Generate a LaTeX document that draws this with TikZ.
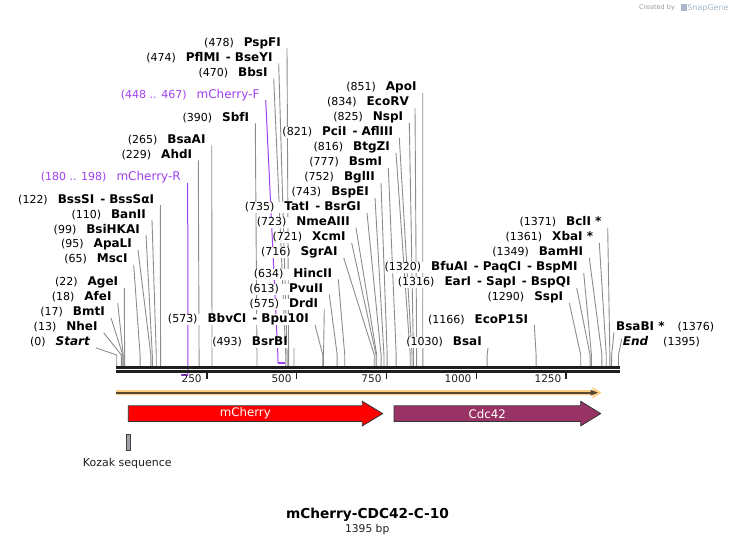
\documentclass[tikz,border=0pt]{standalone}
\usepackage{fontspec}
\setmainfont{DejaVu Sans}
\usetikzlibrary{calc}
\pgfdeclarelayer{bg}
\pgfsetlayers{bg,main}
\definecolor{sitegray}{HTML}{8C8C8C}
\definecolor{primer}{HTML}{A040F0}
\definecolor{axisc}{HTML}{1E1E1E}
\definecolor{bandorange}{HTML}{FFCC85}
\definecolor{banddark}{HTML}{574836}
\definecolor{cdc}{HTML}{993366}
\definecolor{kozak}{HTML}{9EA2AA}
\definecolor{sgblue}{HTML}{A8B8C8}
\newcommand{\rs}[2]{(#1)\hspace{10pt}{\fontsize{12}{14}\selectfont\bfseries #2}}
\newcommand{\sepd}{\hspace{6pt}-\hspace{4pt}}
\tikzset{
  lbl/.style={inner sep=0pt, fill=white, text height=8.5pt, text depth=2.5pt,
              font=\fontsize{11}{13}\selectfont, yshift=-1.2pt},
  siteline/.style={sitegray, line width=0.9pt},
  primerline/.style={primer, line width=1pt},
  primerbar/.style={primer, line width=2pt},
  ticklbl/.style={inner sep=0pt, font=\fontsize{10.5}{12}\selectfont, text=axisc},
  feat/.style={draw=black!80, line width=0.8pt},
  feattext/.style={text=white, font=\fontsize{11.8}{14}\selectfont, inner sep=0pt}
}
\newcommand{\siteE}[5]{%
  \node[lbl,anchor=east] (L#1) at (#2,#3) {#5};
  \coordinate (S#1) at ({116.7+0.3597*#4},355);
  \coordinate (A#1) at ({116.7+0.3597*#4},365.8);
  \begin{pgfonlayer}{bg}
  \draw[siteline] ([shift={(6,5)}]L#1.east) -- (S#1) -- (A#1);
  \end{pgfonlayer}
}
\newcommand{\siteW}[7]{%
  \node[lbl,anchor=west] (L#1) at (#2,#3) {#5};
  \coordinate (S#1) at ({116.7+0.3597*#4},355);
  \coordinate (A#1) at ({116.7+0.3597*#4},365.8);
  \begin{pgfonlayer}{bg}
  \draw[siteline] ([shift={(#6,#7)}]L#1.west) -- (S#1) -- (A#1);
  \end{pgfonlayer}
}
\begin{document}
\begin{tikzpicture}[x=1pt,y=-1pt]
\useasboundingbox (0,0) rectangle (736,545);

% left group
\siteE{pspfi}{281}{42.3}{478}{\rs{478}{PspFI}}
\siteE{pflmi}{272.7}{57.3}{474}{\rs{474}{PflMI\sepd BseYI}}
\siteE{bbsi}{267.7}{72.3}{470}{\rs{470}{BbsI}}
\siteE{sbfi}{249.3}{117.3}{390}{\rs{390}{SbfI}}
\siteE{bsaai}{205.7}{139.3}{265}{\rs{265}{BsaAI}}
\siteE{ahdi}{192.3}{154.3}{229}{\rs{229}{AhdI}}
\siteE{bsssi}{154.3}{199}{122}{\rs{122}{BssSI\sepd BssSαI}}
\siteE{banii}{146}{214}{110}{\rs{110}{BanII}}
\siteE{bsihkai}{140}{229}{99}{\rs{99}{BsiHKAI}}
\siteE{apali}{132}{243.7}{95}{\rs{95}{ApaLI}}
\siteE{msci}{127.7}{258.7}{65}{\rs{65}{MscI}}
\siteE{agei}{118.3}{281.7}{22}{\rs{22}{AgeI}}
\siteE{afei}{111.7}{296.7}{18}{\rs{18}{AfeI}}
\siteE{bmti}{105}{311.7}{17}{\rs{17}{BmtI}}
\siteE{nhei}{97.7}{326.7}{13}{\rs{13}{NheI}}
\siteE{start}{90}{341.7}{0}{\rs{0}{\itshape Start}}
\siteE{bbvci}{309}{318.7}{573}{\rs{573}{BbvCI\sepd Bpu10I}}
\siteE{bsrbi}{288}{341.7}{493}{\rs{493}{BsrBI}}

% middle group
\siteE{apoi}{416.7}{86.7}{851}{\rs{851}{ApoI}}
\siteE{ecorv}{409}{101.7}{834}{\rs{834}{EcoRV}}
\siteE{nspi}{403.3}{116.7}{825}{\rs{825}{NspI}}
\siteE{pcii}{393.3}{131.7}{821}{\rs{821}{PciI\sepd AflIII}}
\siteE{btgzi}{390}{146.7}{816}{\rs{816}{BtgZI}}
\siteE{bsmi}{382.3}{161.7}{777}{\rs{777}{BsmI}}
\siteE{bglii}{375}{176.7}{752}{\rs{752}{BglII}}
\siteE{bspei}{369}{191.7}{743}{\rs{743}{BspEI}}
\siteE{tati}{361}{206.7}{735}{\rs{735}{TatI\sepd BsrGI}}
\siteE{nmeaiii}{350}{221.7}{723}{\rs{723}{NmeAIII}}
\siteE{xcmi}{345.7}{236.7}{721}{\rs{721}{XcmI}}
\siteE{sgrai}{337.7}{251.7}{716}{\rs{716}{SgrAI}}
\siteE{hincii}{332.3}{273.3}{634}{\rs{634}{HincII}}
\siteE{pvuii}{323.3}{288.3}{613}{\rs{613}{PvuII}}
\siteE{drdi}{318.3}{303.3}{575}{\rs{575}{DrdI}}

% right group
\siteE{bcli}{601.7}{221.7}{1371}{\rs{1371}{BclI *}}
\siteE{xbai}{593.3}{236.7}{1361}{\rs{1361}{XbaI *}}
\siteE{bamhi}{583.3}{251.7}{1349}{\rs{1349}{BamHI}}
\siteE{bfuai}{577.7}{266.7}{1320}{\rs{1320}{BfuAI\sepd PaqCI\sepd BspMI}}
\siteE{eari}{570.7}{281.7}{1316}{\rs{1316}{EarI\sepd SapI\sepd BspQI}}
\siteE{sspi}{563.3}{296.7}{1290}{\rs{1290}{SspI}}
\siteE{ecop}{528.3}{319}{1166}{\rs{1166}{EcoP15I}}
\siteE{bsai}{482}{341.7}{1030}{\rs{1030}{BsaI}}
\siteW{bsabi}{616}{326.7}{1376}{{\fontsize{12}{14}\selectfont\bfseries BsaBI *}\hspace{13pt}(1376)}{-2}{4.5}
\siteW{endl}{622.7}{341.7}{1395}{{\fontsize{12}{14}\selectfont\bfseries\itshape End}\hspace{15pt}(1395)}{-1}{-4}

% primers
\node[lbl,anchor=east,text=primer] (Pf) at (259.7,94) {(448 .. 467)\hspace{10pt}{\fontsize{12}{14}\selectfont mCherry-F}};
\coordinate (pf1) at ({116.7+0.3597*448},355);
\coordinate (pf2) at ({116.7+0.3597*448},363);
\coordinate (pf3) at ({116.7+0.3597*467},363);
\node[lbl,anchor=east,text=primer] (Pr) at (181,176.7) {(180 .. 198)\hspace{10pt}{\fontsize{12}{14}\selectfont mCherry-R}};
\coordinate (pr1) at ({116.7+0.3597*198},375.3);
\coordinate (pr2) at ({116.7+0.3597*180},375.3);
\begin{pgfonlayer}{bg}
\draw[primerline] ([shift={(6,5)}]Pf.east) -- (pf1) -- (pf2);
\draw[primerbar] (pf2) -- (pf3);
\draw[primerline] ([shift={(6.7,5)}]Pr.east) -- (pr1);
\draw[primerbar] (pr1) -- (pr2);
\end{pgfonlayer}

% axis
\coordinate (ax0) at (116,367.3);
\coordinate (ax1) at (619.5,367.3);
\coordinate (bx0) at (116,371.5);
\coordinate (bx1) at (619.5,371.5);
\draw[axisc, line width=2.7pt] (ax0) -- (ax1);
\draw[axisc, line width=2.4pt] (bx0) -- (bx1);
\foreach \t in {250,500,750,1000,1250} {
  \coordinate (tk\t) at ({116.7+0.3597*\t},371);
  \coordinate (tb\t) at ({116.7+0.3597*\t},378.7);
  \draw[axisc, line width=1.8pt] (tk\t) -- (tb\t);
  \node[ticklbl, anchor=east] (tl\t) at ({116.7+0.3597*\t-4.8},379) {\t};
}

% full-length orange arrow
\coordinate (ob0) at (116,392.7);
\coordinate (ob1) at (592,392.7);
\fill[bandorange] (116,390.2) -- (593,390.2) -- (592,386.8) -- (601.5,392.7) -- (592,398.6) -- (593,395.2) -- (116,395.2) -- cycle;
\draw[banddark, line width=1.6pt] (ob0) -- (ob1);
\fill[banddark] (590.5,389.8) -- (598,392.7) -- (590.5,395.6) -- cycle;

% mCherry feature
\filldraw[feat, fill=red] (128.3,405.8) -- (362.3,405.8) -- (362.3,401.3) -- (382.7,413.6) -- (362.3,425.9) -- (362.3,421.5) -- (128.3,421.5) -- cycle;
\node[feattext] (fm) at (245.3,413.6) {mCherry};
% Cdc42 feature
\filldraw[feat, fill=cdc] (394,405.8) -- (580.7,405.8) -- (580.7,401.3) -- (600.7,413.6) -- (580.7,425.9) -- (580.7,421.5) -- (394,421.5) -- cycle;
\node[feattext] (fc) at (487.3,413.6) {Cdc42};

% Kozak
\filldraw[fill=kozak, draw=black!75, line width=0.7pt] (126.7,434.3) rectangle (130.7,450.3);
\node[inner sep=0pt, font=\fontsize{11}{13}\selectfont, text=axisc] (kz) at (127.3,463.5) {Kozak sequence};

% title
\node[inner sep=0pt, font=\fontsize{13.7}{16}\selectfont\bfseries] (ttl) at (367.5,514.3) {mCherry-CDC42-C-10};
\node[inner sep=0pt, font=\fontsize{10.7}{12}\selectfont, text=axisc] (bp) at (367.2,530) {1395 bp};

% credit
\node[inner sep=0pt, font=\fontsize{6.5}{8}\selectfont, text=black!40] (cr) at (657,8) {Created by};
\fill[sgblue] (680.5,4.5) rectangle (686.5,11.5);
\node[inner sep=0pt, font=\fontsize{8}{9}\selectfont, text=sgblue] (sg) at (708,8) {SnapGene};
\end{tikzpicture}
\end{document}
